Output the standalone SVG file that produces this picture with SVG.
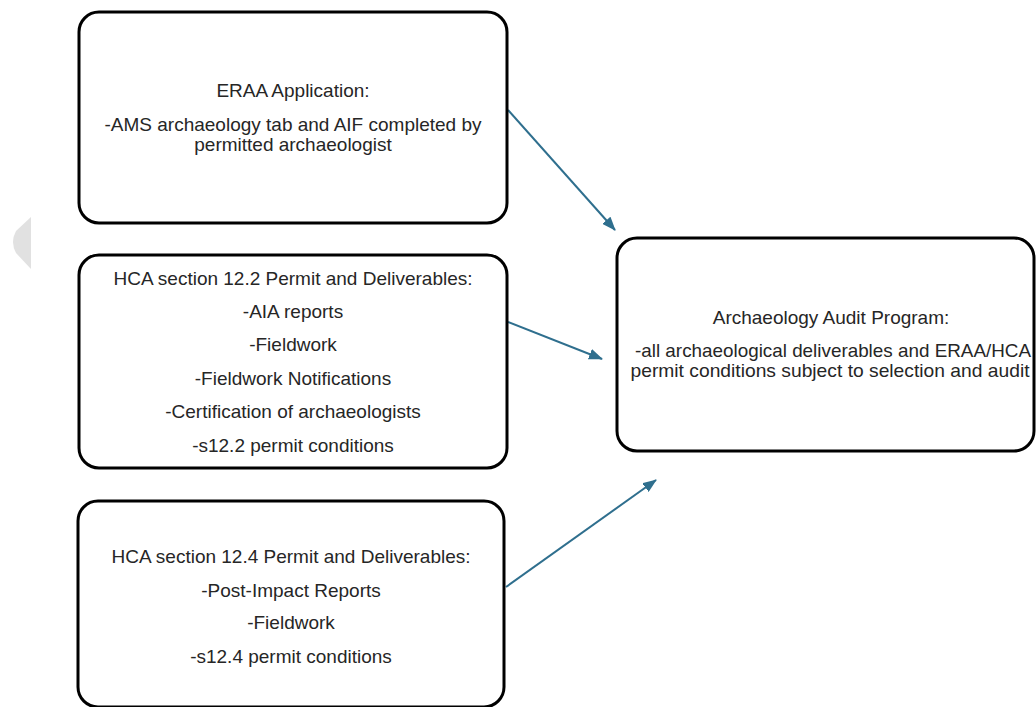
<svg xmlns="http://www.w3.org/2000/svg" width="1036" height="707" viewBox="0 0 1036 707">
<style>
.box{fill:#fff;stroke:#000;stroke-width:3}
.t{font-family:"Liberation Sans",Arial,sans-serif;font-size:19px;fill:#262626;text-anchor:middle}
.c{stroke:#2f6f8e;stroke-width:2;fill:none}
</style>
<defs>
<marker id="ah" viewBox="0 0 14 11" refX="13" refY="5.5" markerWidth="14" markerHeight="11" markerUnits="userSpaceOnUse" orient="auto">
<path d="M0,0 L14,5.5 L0,11 Z" fill="#2f6f8e"/>
</marker>
</defs>
<rect width="1036" height="707" fill="#fff"/>
<path d="M31,217 L31,269 L16,253 Q10,242 16,231 Z" fill="#e1e1e1"/>
<g id="connectors">
<line class="c" x1="508" y1="110" x2="615" y2="230" marker-end="url(#ah)"/>
<line class="c" x1="508" y1="322" x2="602" y2="359" marker-end="url(#ah)"/>
<line class="c" x1="506" y1="587" x2="656" y2="480" marker-end="url(#ah)"/>
</g>
<g id="eraa">
<rect class="box" x="79" y="12" width="428" height="211" rx="20"/>
<text class="t" x="293" y="97">ERAA Application:</text>
<text class="t" x="293" y="131">-AMS archaeology tab and AIF completed by</text>
<text class="t" x="293" y="151">permitted archaeologist</text>
</g>
<g id="hca122">
<rect class="box" x="79" y="255" width="428" height="213" rx="20"/>
<text class="t" x="293" y="285">HCA section 12.2 Permit and Deliverables:</text>
<text class="t" x="293" y="318">-AIA reports</text>
<text class="t" x="293" y="351">-Fieldwork</text>
<text class="t" x="293" y="385">-Fieldwork Notifications</text>
<text class="t" x="293" y="418">-Certification of archaeologists</text>
<text class="t" x="293" y="452">-s12.2 permit conditions</text>
</g>
<g id="hca124">
<rect class="box" x="78" y="501" width="426" height="206" rx="20"/>
<text class="t" x="291" y="563">HCA section 12.4 Permit and Deliverables:</text>
<text class="t" x="291" y="597">-Post-Impact Reports</text>
<text class="t" x="291" y="629">-Fieldwork</text>
<text class="t" x="291" y="663">-s12.4 permit conditions</text>
</g>
<g id="audit">
<rect class="box" x="617" y="238" width="417" height="213" rx="20"/>
<text class="t" x="831" y="324">Archaeology Audit Program:</text>
<text class="t" x="833" y="357" textLength="396" lengthAdjust="spacingAndGlyphs">-all archaeological deliverables and ERAA/HCA</text>
<text class="t" x="830" y="377" textLength="399" lengthAdjust="spacingAndGlyphs">permit conditions subject to selection and audit</text>
</g>
</svg>
